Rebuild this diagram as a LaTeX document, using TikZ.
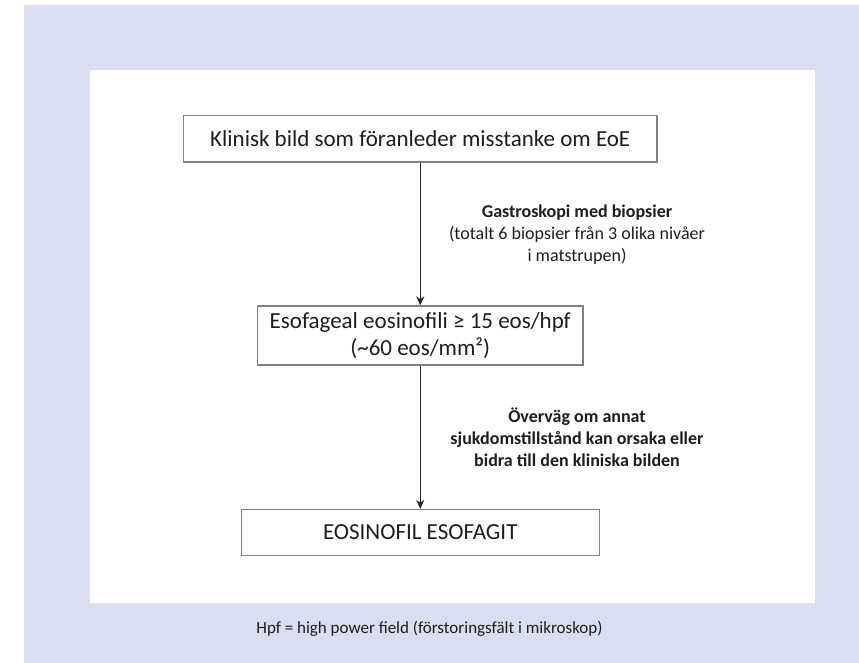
\documentclass[tikz,border=0pt]{standalone}
\usepackage{fontspec}
\setmainfont{Carlito}
\usetikzlibrary{arrows.meta}
\definecolor{bgblue}{RGB}{217,223,240}
\definecolor{boxgray}{RGB}{128,128,128}
\definecolor{txt}{RGB}{30,30,30}
\tikzset{
  flowbox/.style={draw=boxgray, line width=1.3pt, fill=white, inner sep=0pt, align=center,
    text=txt, font=\fontsize{23}{27}\selectfont},
  steplabel/.style={align=center, text=txt, font=\fontsize{18}{22}\selectfont},
  flowarrow/.style={draw=black!85, line width=1.3pt, -{Stealth[length=9pt,width=8pt]}}
}
\begin{document}
\begin{tikzpicture}[x=1pt,y=-1pt]
\useasboundingbox (0,0) rectangle (859,663);
\fill[white] (0,0) rectangle (859,663);
\fill[bgblue] (24,5) rectangle (859,663);
\fill[white] (90,70) rectangle (815,603);

\node[flowbox, minimum width=473.5pt, minimum height=46.6pt] (b1) at (420.25,138.7)
  {Klinisk bild som föranleder misstanke om EoE};
\node[flowbox, minimum width=325.5pt, minimum height=59pt] (b2) at (420.25,335.5)
  {Esofageal eosinofili ≥ 15 eos/hpf\\(\textasciitilde60 eos/mm²)};
\node[flowbox, minimum width=358pt, minimum height=46pt] (b3) at (420.25,532.5)
  {EOSINOFIL ESOFAGIT};

\draw[flowarrow] (b1) -- (b2);
\draw[flowarrow] (b2) -- (b3);

\node[steplabel] (l1) at (577,234.7)
  {\textbf{Gastroskopi med biopsier}\\(totalt 6 biopsier från 3 olika nivåer\\i matstrupen)};
\node[steplabel, font=\fontsize{18}{22}\selectfont\bfseries] (l2) at (577,437.6)
  {Överväg om annat\\sjukdomstillstånd kan orsaka eller\\bidra till den kliniska bilden};

\node[text=txt, font=\fontsize{17}{20}\selectfont] (foot) at (429.5,628.7)
  {Hpf = high power field (förstoringsfält i mikroskop)};
\end{tikzpicture}
\end{document}
